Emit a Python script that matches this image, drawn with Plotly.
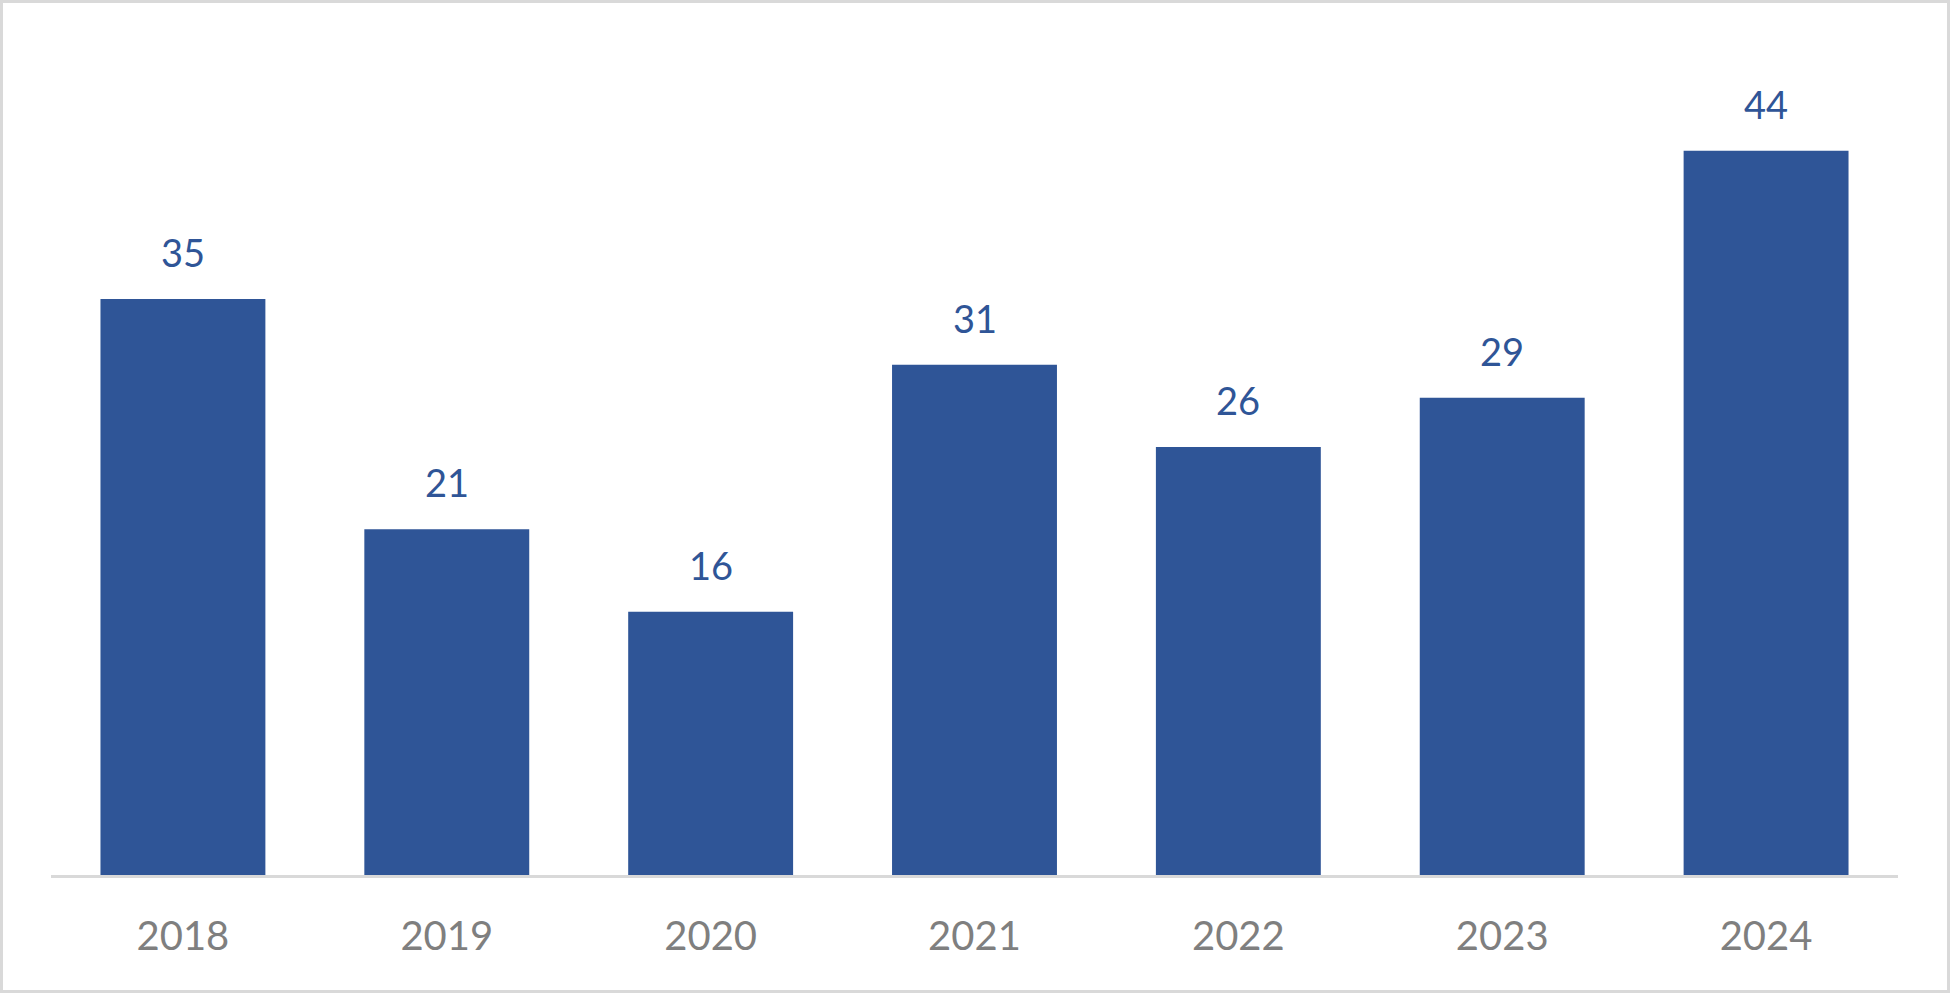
import plotly.graph_objects as go

years = ["2018", "2019", "2020", "2021", "2022", "2023", "2024"]
values = [35, 21, 16, 31, 26, 29, 44]

BAR_COLOR = "#2F5597"
W, H = 1950, 993
L, R, T, B = 51, 52, 52, 118

fig = go.Figure()
fig.add_trace(go.Bar(x=years, y=values, marker=dict(color=BAR_COLOR, line=dict(width=0)),
                     hoverinfo="x+y"))

for i, v in enumerate(values):
    fig.add_annotation(x=i, y=v, text=str(v), showarrow=False, yanchor="bottom",
                       yshift=22, font=dict(family="Lato", size=38, color=BAR_COLOR))

pw = W - L - R
ph = H - T - B
fig.add_shape(type="rect", xref="paper", yref="paper",
              x0=(1.5 - L) / pw, x1=(W - 1.5 - L) / pw,
              y0=-(B - 1.5) / ph, y1=1 + (T - 1.5) / ph,
              line=dict(color="#D9D9D9", width=3), fillcolor="rgba(0,0,0,0)", layer="below")

fig.update_layout(
    width=W, height=H,
    margin=dict(l=L, r=R, t=T, b=B, autoexpand=False),
    paper_bgcolor="white", plot_bgcolor="white",
    bargap=0.375,
    showlegend=False,
    xaxis=dict(type="category", range=[-0.5, len(years) - 0.5],
               showline=True, linecolor="#D9D9D9", linewidth=2.5, showgrid=False,
               ticks="", tickfont=dict(family="Lato", size=40, color="#7F7F7F"),
               ticklabelstandoff=24, zeroline=False, automargin=False),
    yaxis=dict(range=[0, 50], visible=False, showgrid=False, zeroline=False, automargin=False),
)

fig.write_html("out.html", config={"displayModeBar": False},
               post_script="document.body.style.margin='0';document.body.style.overflow='hidden';")
